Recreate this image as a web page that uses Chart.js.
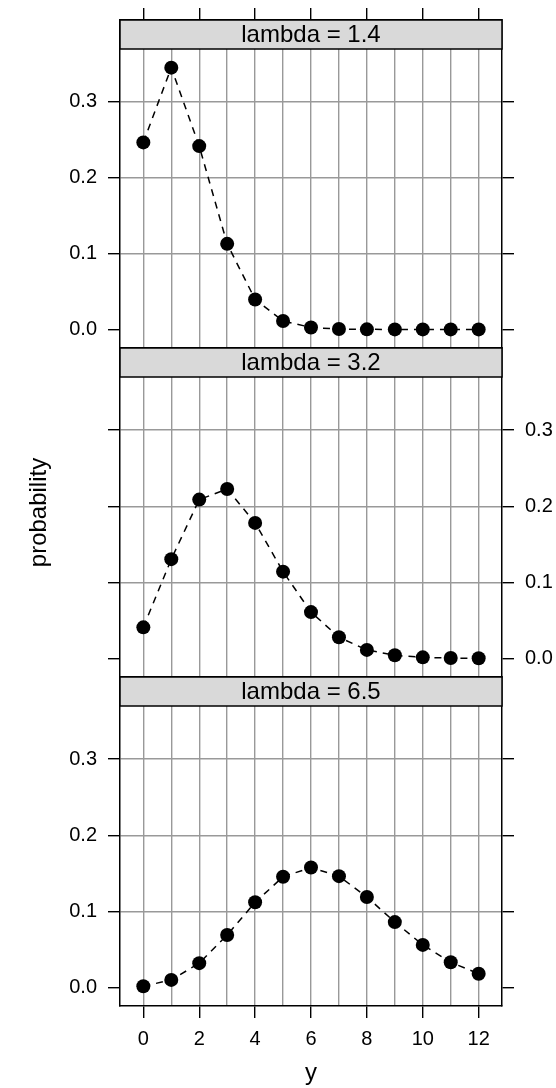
<!DOCTYPE html>
<html>
<head>
<meta charset="utf-8">
<script src="https://cdn.jsdelivr.net/npm/chart.js@4.4.0/dist/chart.umd.min.js"></script>
<style>
  html, body { margin: 0; padding: 0; background: #fff; }
  #wrap { position: relative; width: 556px; height: 1088px; overflow: hidden; }
  canvas { position: absolute; left: 0; top: 0; }
  #c1 { top: -3px; }
</style>
</head>
<body>
<div id="wrap">
  <canvas id="c1" width="556" height="1088"></canvas>
  <canvas id="c2" width="556" height="1088"></canvas>
  <canvas id="c3" width="556" height="1088"></canvas>
</div>
<script>
// counts on the x axis
const yValues = [0, 1, 2, 3, 4, 5, 6, 7, 8, 9, 10, 11, 12];

// probabilities
const probLambda14 = [0.2466, 0.3452, 0.2417, 0.1128, 0.0395, 0.0111, 0.0026, 0.0005, 0.0001, 0.0000, 0.0000, 0.0000, 0.0000];
const probLambda32 = [0.0408, 0.1304, 0.2087, 0.2226, 0.1781, 0.1140, 0.0608, 0.0278, 0.0111, 0.0040, 0.0013, 0.0004, 0.0001];
const probLambda65 = [0.0015, 0.0098, 0.0318, 0.0688, 0.1118, 0.1454, 0.1575, 0.1462, 0.1188, 0.0858, 0.0558, 0.0330, 0.0179];

const panelTitles = ['lambda = 1.4', 'lambda = 3.2', 'lambda = 6.5'];
const probTicks = [0, 0.1, 0.2, 0.3];
const xTicks = yValues;

const X_MIN = -0.835, X_MAX = 12.835;
const Y_MIN = -0.0245, Y_MAX = 0.408;   // top part of the range is covered by the strip
const GRID = '#999999';
const CLEAR = 'rgba(0,0,0,0)';

Chart.defaults.font.family = '"Liberation Sans", Arial, Helvetica, sans-serif';
Chart.defaults.color = '#000';

const stripPlugin = {
  id: 'strip',
  afterDraw(chart, args, opts) {
    const { ctx, chartArea: a } = chart;
    ctx.save();
    ctx.fillStyle = '#d9d9d9';
    ctx.fillRect(a.left, a.top, a.right - a.left, 29);
    ctx.strokeStyle = '#000';
    ctx.lineWidth = 1.5;
    ctx.strokeRect(a.left, a.top, a.right - a.left, 29);
    ctx.fillStyle = '#000';
    ctx.font = '24px "Liberation Sans", Arial, sans-serif';
    ctx.textAlign = 'center';
    ctx.textBaseline = 'middle';
    ctx.fillText(opts.text, (a.left + a.right) / 2, a.top + 15.5);
    ctx.restore();
  }
};

function yAxis(position, labelled, title) {
  return {
    type: 'linear',
    position: position,
    min: Y_MIN,
    max: Y_MAX,
    afterBuildTicks: s => { s.ticks = probTicks.map(v => ({ value: v })); },
    afterFit: s => { s.width = position === 'left' ? 120 : 54; },
    grid: {
      drawOnChartArea: position === 'left',
      color: ctx => (ctx.tick && ctx.tick.value === 0) ? CLEAR : GRID,
      lineWidth: 1.4,
      tickLength: 12,
      tickColor: '#000',
      tickWidth: 1.4
    },
    border: { color: '#000', width: 1.5 },
    ticks: {
      padding: 11,
      font: { size: 20 },
      callback: v => labelled ? v.toFixed(1) : ''
    },
    title: {
      display: !!title,
      text: title || '',
      font: { size: 24 },
      padding: { top: 25, bottom: 0 }
    }
  };
}

function xAxis(position, height, showTicks, showLabels, onArea, title) {
  return {
    type: 'linear',
    position: position,
    min: X_MIN,
    max: X_MAX,
    afterBuildTicks: s => { s.ticks = xTicks.map(v => ({ value: v })); },
    afterFit: s => { s.height = height; },
    grid: {
      drawOnChartArea: onArea,
      drawTicks: showTicks,
      color: GRID,
      lineWidth: 1.4,
      tickLength: 12,
      tickColor: ctx => (ctx.tick && ctx.tick.value % 2 === 0) ? '#000' : CLEAR,
      tickWidth: 1.4
    },
    border: { color: '#000', width: 1.5 },
    ticks: {
      display: showLabels,
      autoSkip: false,
      maxRotation: 0,
      padding: 9,
      font: { size: 20 },
      callback: v => (v % 2 === 0) ? String(v) : ''
    },
    title: {
      display: !!title,
      text: title || '',
      font: { size: 24 },
      padding: { top: 0, bottom: 0 }
    }
  };
}

function makePanel(id, values, stripText, pad, scales) {
  return new Chart(document.getElementById(id), {
    type: 'line',
    data: {
      datasets: [{
        data: yValues.map((v, i) => ({ x: v, y: values[i] })),
        borderColor: '#000',
        borderWidth: 1.5,
        borderDash: [7, 6],
        tension: 0,
        pointRadius: 7,
        pointBorderWidth: 0,
        pointBackgroundColor: '#000',
        pointHoverRadius: 7
      }]
    },
    options: {
      responsive: false,
      animation: false,
      devicePixelRatio: 1,
      layout: { padding: pad },
      scales: scales,
      plugins: {
        legend: { display: false },
        tooltip: { enabled: false },
        strip: { text: stripText }
      }
    },
    plugins: [stripPlugin]
  });
}

// top panel: ticks above, labels on the left (canvas lifted 3px, see css)
makePanel('c1', probLambda14, panelTitles[0],
  { top: 0, bottom: 737, left: 0, right: 0 },
  {
    x: xAxis('bottom', 0, false, false, true),
    xTop: xAxis('top', 16, true, false, false),
    y: yAxis('left', true),
    yRight: yAxis('right', false)
  });

// middle panel: labels on the right, y title on the left
makePanel('c2', probLambda32, panelTitles[1],
  { top: 348, bottom: 411, left: 0, right: 0 },
  {
    x: xAxis('bottom', 0, false, false, true),
    y: yAxis('left', false, 'probability'),
    yRight: yAxis('right', true)
  });

// bottom panel: x axis with labels
makePanel('c3', probLambda65, panelTitles[2],
  { top: 677, bottom: 0, left: 0, right: 0 },
  {
    x: xAxis('bottom', 82, true, true, true, 'y'),
    y: yAxis('left', true),
    yRight: yAxis('right', false)
  });
</script>
</body>
</html>
